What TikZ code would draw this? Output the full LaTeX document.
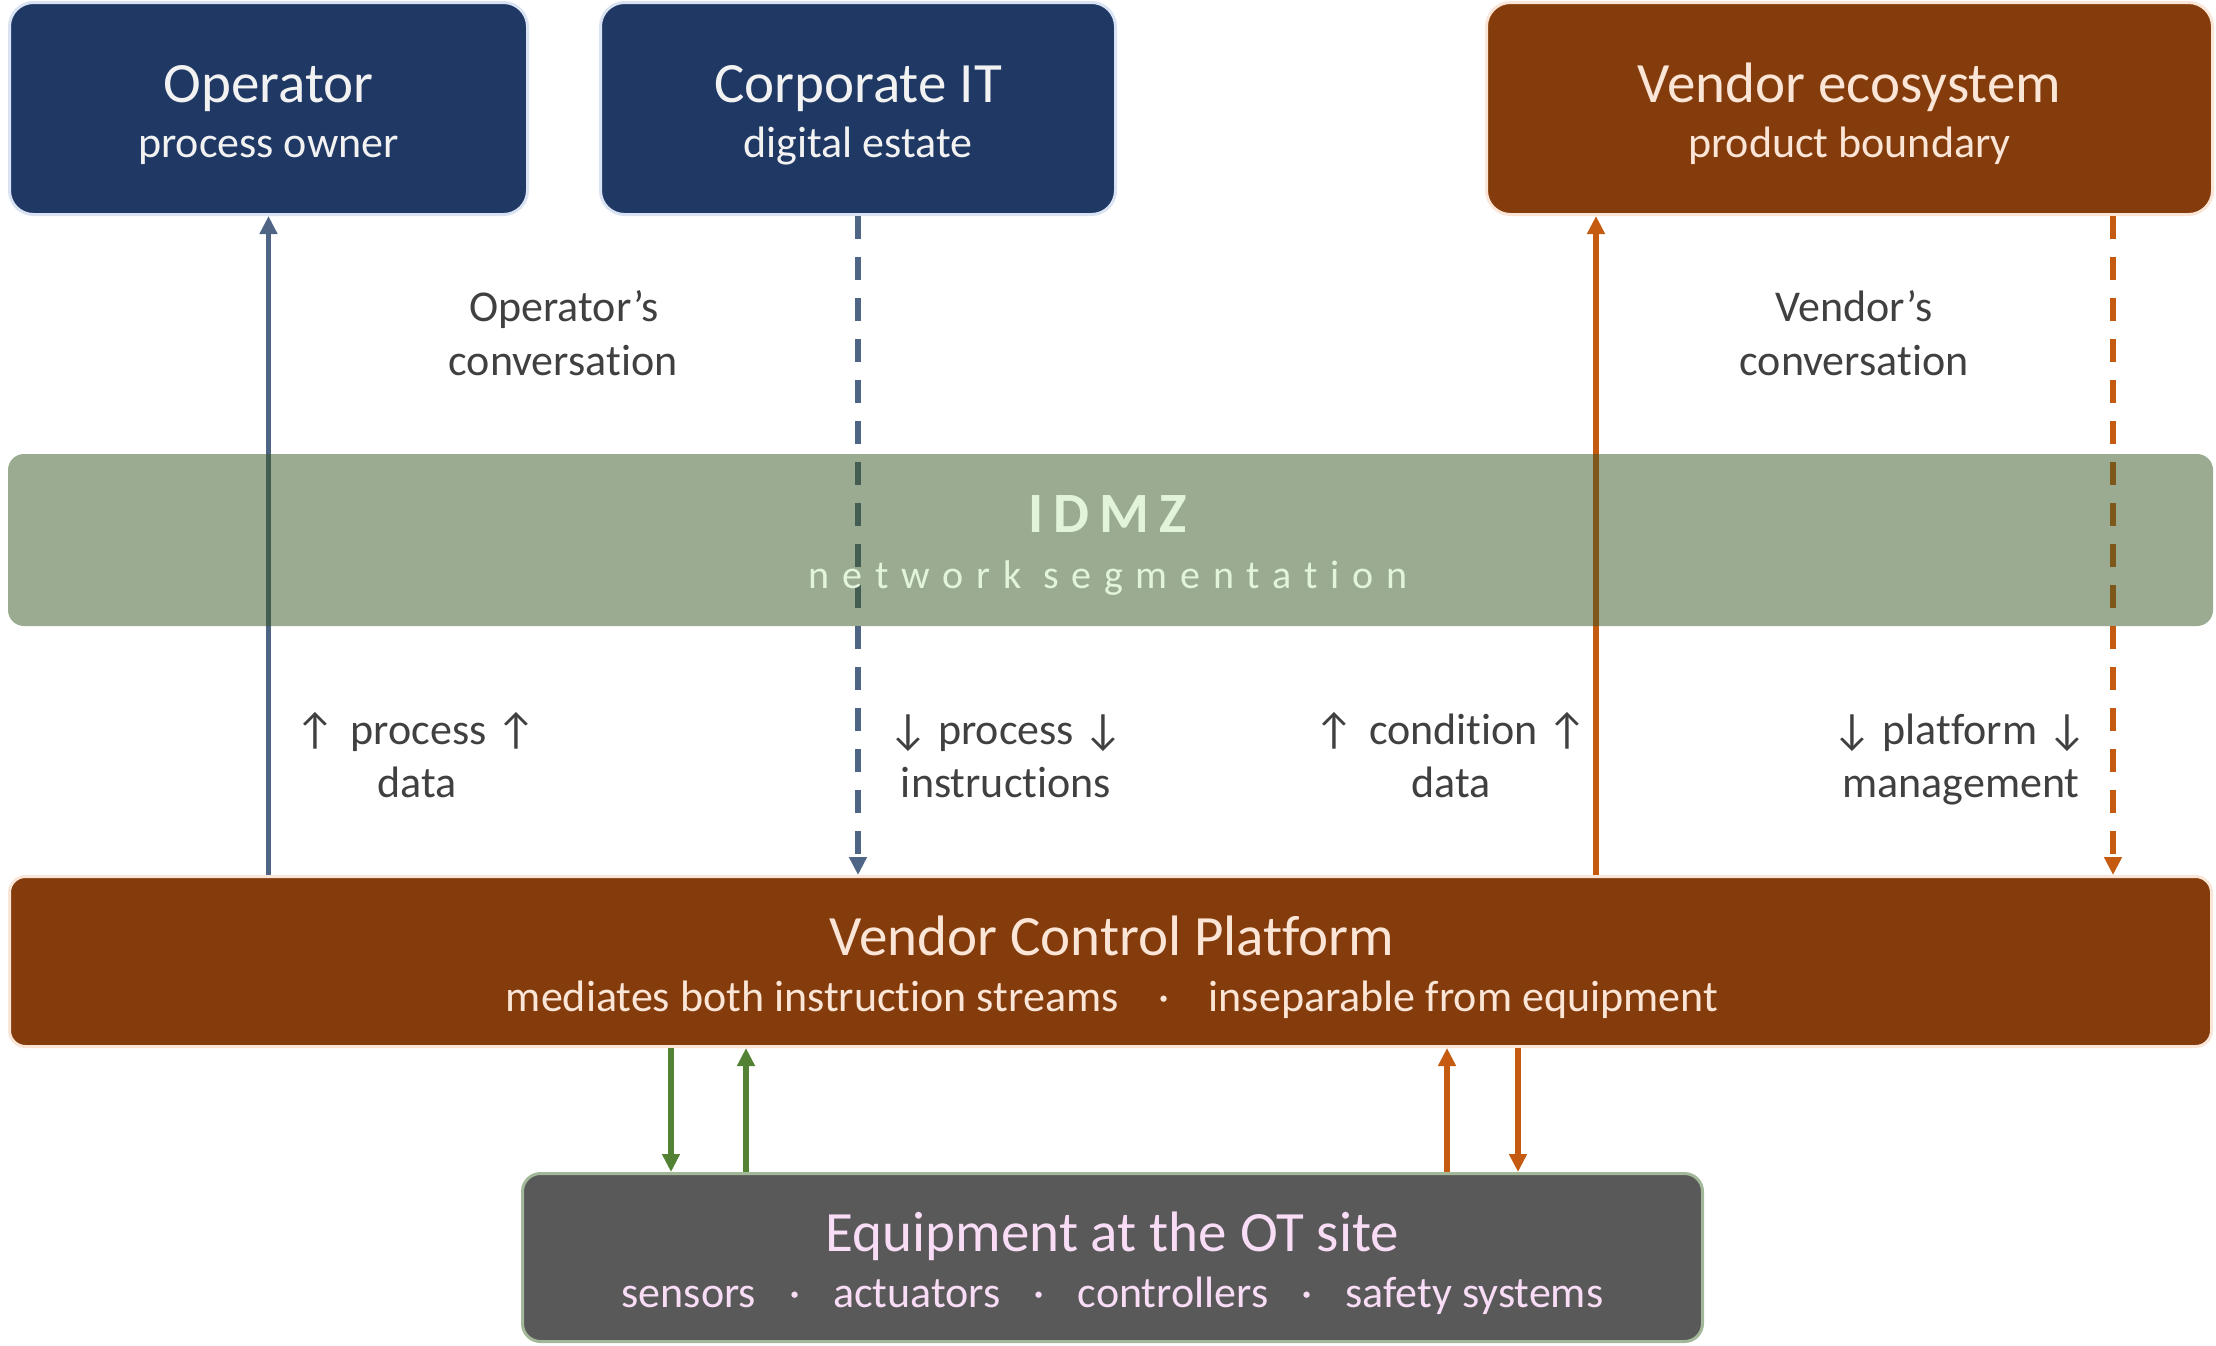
\documentclass[tikz,border=0pt]{standalone}
\usepackage{fontspec}
\setmainfont{Carlito}[Ligatures={NoCommon}]
\newfontfamily\idmzfont{Carlito}[LetterSpace=18,Ligatures={NoCommon}]
\newfontfamily\segfont{Carlito}[LetterSpace=32,Ligatures={NoCommon}]
\usetikzlibrary{arrows.meta}
\definecolor{navy}{HTML}{203864}
\definecolor{navyedge}{HTML}{DAE3F3}
\definecolor{brown}{HTML}{843C0C}
\definecolor{brownedge}{HTML}{FBE5D6}
\definecolor{peach}{HTML}{FBE5D6}
\definecolor{equipfill}{HTML}{595959}
\definecolor{equipedge}{HTML}{A3B899}
\definecolor{equiptext}{HTML}{F9DCF6}
\definecolor{bandfill}{HTML}{385723}
\definecolor{bandtext}{HTML}{E2F5DA}
\definecolor{slate}{HTML}{4F6585}
\definecolor{orangeline}{HTML}{C55A11}
\definecolor{greenline}{HTML}{548235}
\definecolor{labeltext}{HTML}{404040}
\definecolor{navytext}{HTML}{F2F2F2}
\begin{document}
\begin{tikzpicture}[x=0.5pt,y=-0.5pt,
  boxstyle/.style={draw, line width=1.5pt, rounded corners=12pt, inner sep=0pt},
  bandstyle/.style={rounded corners=8pt, inner sep=0pt},
  titletext/.style={anchor=base, inner sep=0pt, font=\fontsize{28.5}{34}\selectfont},
  subtext/.style={anchor=base, inner sep=0pt, font=\fontsize{22}{27}\selectfont},
  labeltxt/.style={anchor=base, inner sep=0pt, text=labeltext, font=\fontsize{22}{27}\selectfont},
  arrowtip/.style={-{Triangle[width=8.5pt,length=9pt]}},
  conn/.style={arrowtip, line width=2.75pt},
  dashconn/.style={conn, dash pattern=on 11.5pt off 9pt}
]
\useasboundingbox (0,0) rectangle (2216,1345);
% top boxes
\node[boxstyle, fill=navy, draw=navyedge, minimum width=259pt, minimum height=106pt] (op) at (268.5,108.5) {};
\node[boxstyle, fill=navy, draw=navyedge, minimum width=257.5pt, minimum height=106pt] (corp) at (858,108.5) {};
\node[boxstyle, fill=brown, draw=brownedge, minimum width=363pt, minimum height=106pt] (vend) at (1849.5,108.5) {};
% platform and equipment
\node[boxstyle, rounded corners=8pt, fill=brown, draw=brownedge, minimum width=1101pt, minimum height=85pt] (vcp) at (1110.5,961.5) {};
\node[boxstyle, rounded corners=9pt, fill=equipfill, draw=equipedge, minimum width=590pt, minimum height=84pt] (equip) at (1112.5,1257.5) {};
% box texts
\node[titletext, text=navytext] (optitle) at (268.5,102) {Operator};
\node[subtext, text=navytext] (opsub) at (268.5,157) {process owner};
\node[titletext, text=navytext] (corptitle) at (858,102) {Corporate IT};
\node[subtext, text=navytext] (corpsub) at (858,157) {digital estate};
\node[titletext, text=peach] (vendtitle) at (1849.5,102) {Vendor ecosystem};
\node[subtext, text=peach] (vendsub) at (1849.5,157) {product boundary};
\node[titletext, text=peach] (vcptitle) at (1112,955) {Vendor Control Platform};
\node[subtext, text=peach] (vcpsub) at (1112,1011) {mediates both instruction streams\hspace{0.9em}·\hspace{0.9em}inseparable from equipment};
\node[titletext, text=equiptext] (eqtitle) at (1112.5,1251) {Equipment at the OT site};
\node[subtext, text=equiptext] (eqsub) at (1112.5,1307) {sensors\hspace{0.75em}·\hspace{0.75em}actuators\hspace{0.75em}·\hspace{0.75em}controllers\hspace{0.75em}·\hspace{0.75em}safety systems};
% connector x positions
\coordinate (vx1) at (1596,0);
\coordinate (vx2) at (2113,0);
\coordinate (gx1) at (671,0);
\coordinate (gx2) at (746,0);
\coordinate (ox1) at (1447,0);
\coordinate (ox2) at (1518,0);
% connectors upper
\draw[conn, slate] (op.south |- vcp.north) -- (op.south);
\draw[dashconn, slate] (corp.south) -- (corp.south |- vcp.north);
\draw[conn, orangeline] (vx1 |- vcp.north) -- (vx1 |- vend.south);
\draw[dashconn, orangeline] (vx2 |- vend.south) -- (vx2 |- vcp.north);
% connectors lower
\draw[conn, greenline] (gx1 |- vcp.south) -- (gx1 |- equip.north);
\draw[conn, greenline] (gx2 |- equip.north) -- (gx2 |- vcp.south);
\draw[conn, orangeline] (ox1 |- equip.north) -- (ox1 |- vcp.south);
\draw[conn, orangeline] (ox2 |- vcp.south) -- (ox2 |- equip.north);
% IDMZ band (semi-transparent, over the connectors)
\node[bandstyle, fill=bandfill, fill opacity=0.5, minimum width=1102.5pt, minimum height=86pt] (idmz) at (1110.5,540) {};
\node[anchor=base, inner sep=0pt, text=bandtext, font=\idmzfont\bfseries\fontsize{28.5}{34}\selectfont] (idmztitle) at (1107.5,532) {IDMZ};
\node[anchor=base, inner sep=0pt, text=bandtext, font=\segfont\fontsize{20}{24}\selectfont] (idmzsub) at (1108,588) {network segmentation};
% labels
\node[labeltxt] (opconv1) at (564,321) {Operator’s};
\node[labeltxt] (opconv2) at (563,375) {conversation};
\node[labeltxt] (vconv1) at (1854,321) {Vendor’s};
\node[labeltxt] (vconv2) at (1854,375) {conversation};
\node[labeltxt] (pd1) at (416,744) {↑\hspace{0.35em}process ↑};
\node[labeltxt] (pd2) at (417,797) {data};
\node[labeltxt] (pi1) at (1006,744) {↓ process ↓};
\node[labeltxt] (pi2) at (1006,797) {instructions};
\node[labeltxt] (cd1) at (1451,744) {↑\hspace{0.35em}condition ↑};
\node[labeltxt] (cd2) at (1451,797) {data};
\node[labeltxt] (pm1) at (1960,744) {↓ platform ↓};
\node[labeltxt] (pm2) at (1961,797) {management};
\end{tikzpicture}
\end{document}
